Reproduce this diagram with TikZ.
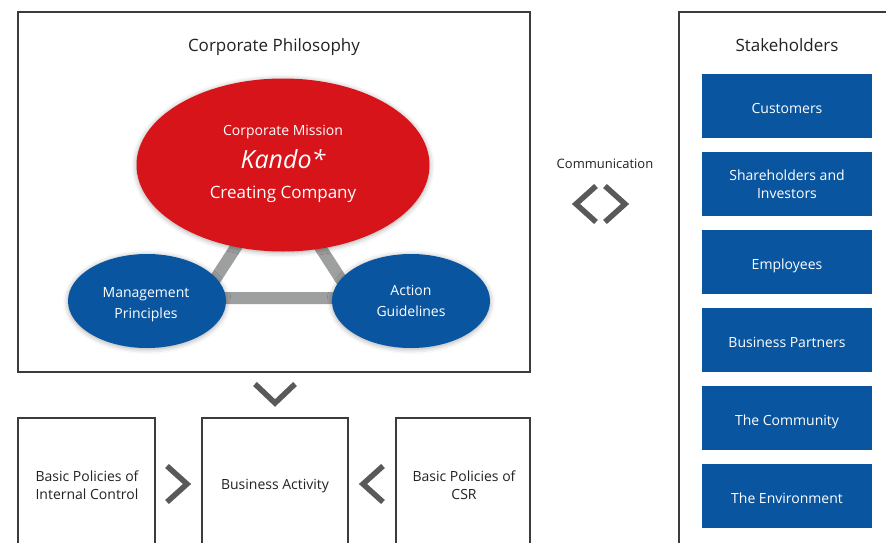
\documentclass[tikz,border=0pt]{standalone}
\usepackage{fontspec}
\setmainfont{Open Sans}
\usetikzlibrary{shapes.geometric,shadows.blur}

\definecolor{missionred}{HTML}{D7141A}
\definecolor{policyblue}{HTML}{0A559F}
\definecolor{bargray}{HTML}{9EA09F}
\definecolor{chevgray}{HTML}{595959}
\definecolor{framegray}{HTML}{3C3C3C}
\definecolor{inkgray}{HTML}{222222}

\tikzset{
  frame/.style={draw=framegray, line width=1.1pt},
  chevron/.style={draw=chevgray, line width=5.5pt, line join=miter},
  linkbar/.style={draw=bargray, line width=12pt},
  oval/.style={ellipse, inner sep=0pt, text=white, align=center,
    blur shadow={shadow xshift=0pt, shadow yshift=-1pt, shadow blur radius=5pt, shadow opacity=35}},
  bluebox/.style={fill=policyblue, text=white, minimum width=170pt, minimum height=64pt,
    inner sep=0pt, align=center, font=\fontsize{14}{18}\selectfont},
  oneline/.style={text height=14pt, text depth=0pt},
  plaintext/.style={text=inkgray, align=center, inner sep=0pt}
}

\begin{document}
\begin{tikzpicture}[x=1pt, y=-1pt]
\useasboundingbox (0,0) rectangle (886,543);
\clip (0,0) rectangle (886,543);

% Corporate philosophy
\draw[frame] (18,12) rectangle (530,372);
\node[plaintext, anchor=base, font=\fontsize{17}{20}\selectfont] (philo) at (274,52) {Corporate Philosophy};

\coordinate (tritop) at (278,182);
\coordinate (trileft) at (203,298);
\coordinate (triright) at (353,298);
\draw[linkbar] (tritop) -- (trileft) -- (triright) -- cycle;

\node[oval, fill=missionred, minimum width=293pt, minimum height=173pt] (mission) at (283,165) {};
\node[anchor=base, text=white, inner sep=0pt, font=\fontsize{14}{16}\selectfont] (missiontop) at (283,135) {Corporate Mission};
\node[anchor=base, text=white, inner sep=0pt, font=\fontsize{25}{28}\selectfont\itshape] (kando) at (283,168) {Kando*};
\node[anchor=base, text=white, inner sep=0pt, font=\fontsize{17}{20}\selectfont] (creating) at (283,198) {Creating Company};

\node[oval, fill=policyblue, minimum width=158pt, minimum height=94pt] (mgmt) at (147,301) {};
\node[text=white, align=center, inner sep=0pt, font=\fontsize{14}{21}\selectfont] (mgmttext) at (146,305) {Management\\Principles};
\node[oval, fill=policyblue, minimum width=158pt, minimum height=94pt, font=\fontsize{14}{21}\selectfont] (action) at (411,301) {Action\\Guidelines};

\draw[chevron] (255,384) -- (275,403) -- (295,384);

% Policies and business activity
\draw[frame] (18,418) rectangle (155,560);
\node[plaintext, font=\fontsize{14}{18}\selectfont] (internal) at (87,485) {Basic Policies of\\Internal Control};
\draw[frame] (202,418) rectangle (348,560);
\node[plaintext, font=\fontsize{14}{18}\selectfont] (business) at (275,486) {Business Activity};
\draw[frame] (396,418) rectangle (530,560);
\node[plaintext, font=\fontsize{14}{18}\selectfont] (csr) at (464,485) {Basic Policies of\\CSR};

\draw[chevron] (167,466) -- (187,484) -- (167,502);
\draw[chevron] (383,466) -- (363,484) -- (383,502);

% Communication
\node[plaintext, anchor=base, font=\fontsize{13}{16}\selectfont] (comm) at (605,168) {Communication};
\draw[chevron] (596,186) -- (576,204) -- (596,222);
\draw[chevron] (605,186) -- (625,204) -- (605,222);

% Stakeholders
\draw[frame] (679,12) rectangle (900,560);
\node[plaintext, anchor=base, font=\fontsize{17}{20}\selectfont] (stake) at (787,52) {Stakeholders};
\node[bluebox, oneline] (customers) at (787,106) {Customers};
\node[bluebox] (holders) at (787,184) {Shareholders and\\Investors};
\node[bluebox, oneline] (employees) at (787,262) {Employees};
\node[bluebox, oneline] (partners) at (787,340) {Business Partners};
\node[bluebox, oneline] (community) at (787,418) {The Community};
\node[bluebox, oneline] (environment) at (787,496) {The Environment};
\end{tikzpicture}
\end{document}
